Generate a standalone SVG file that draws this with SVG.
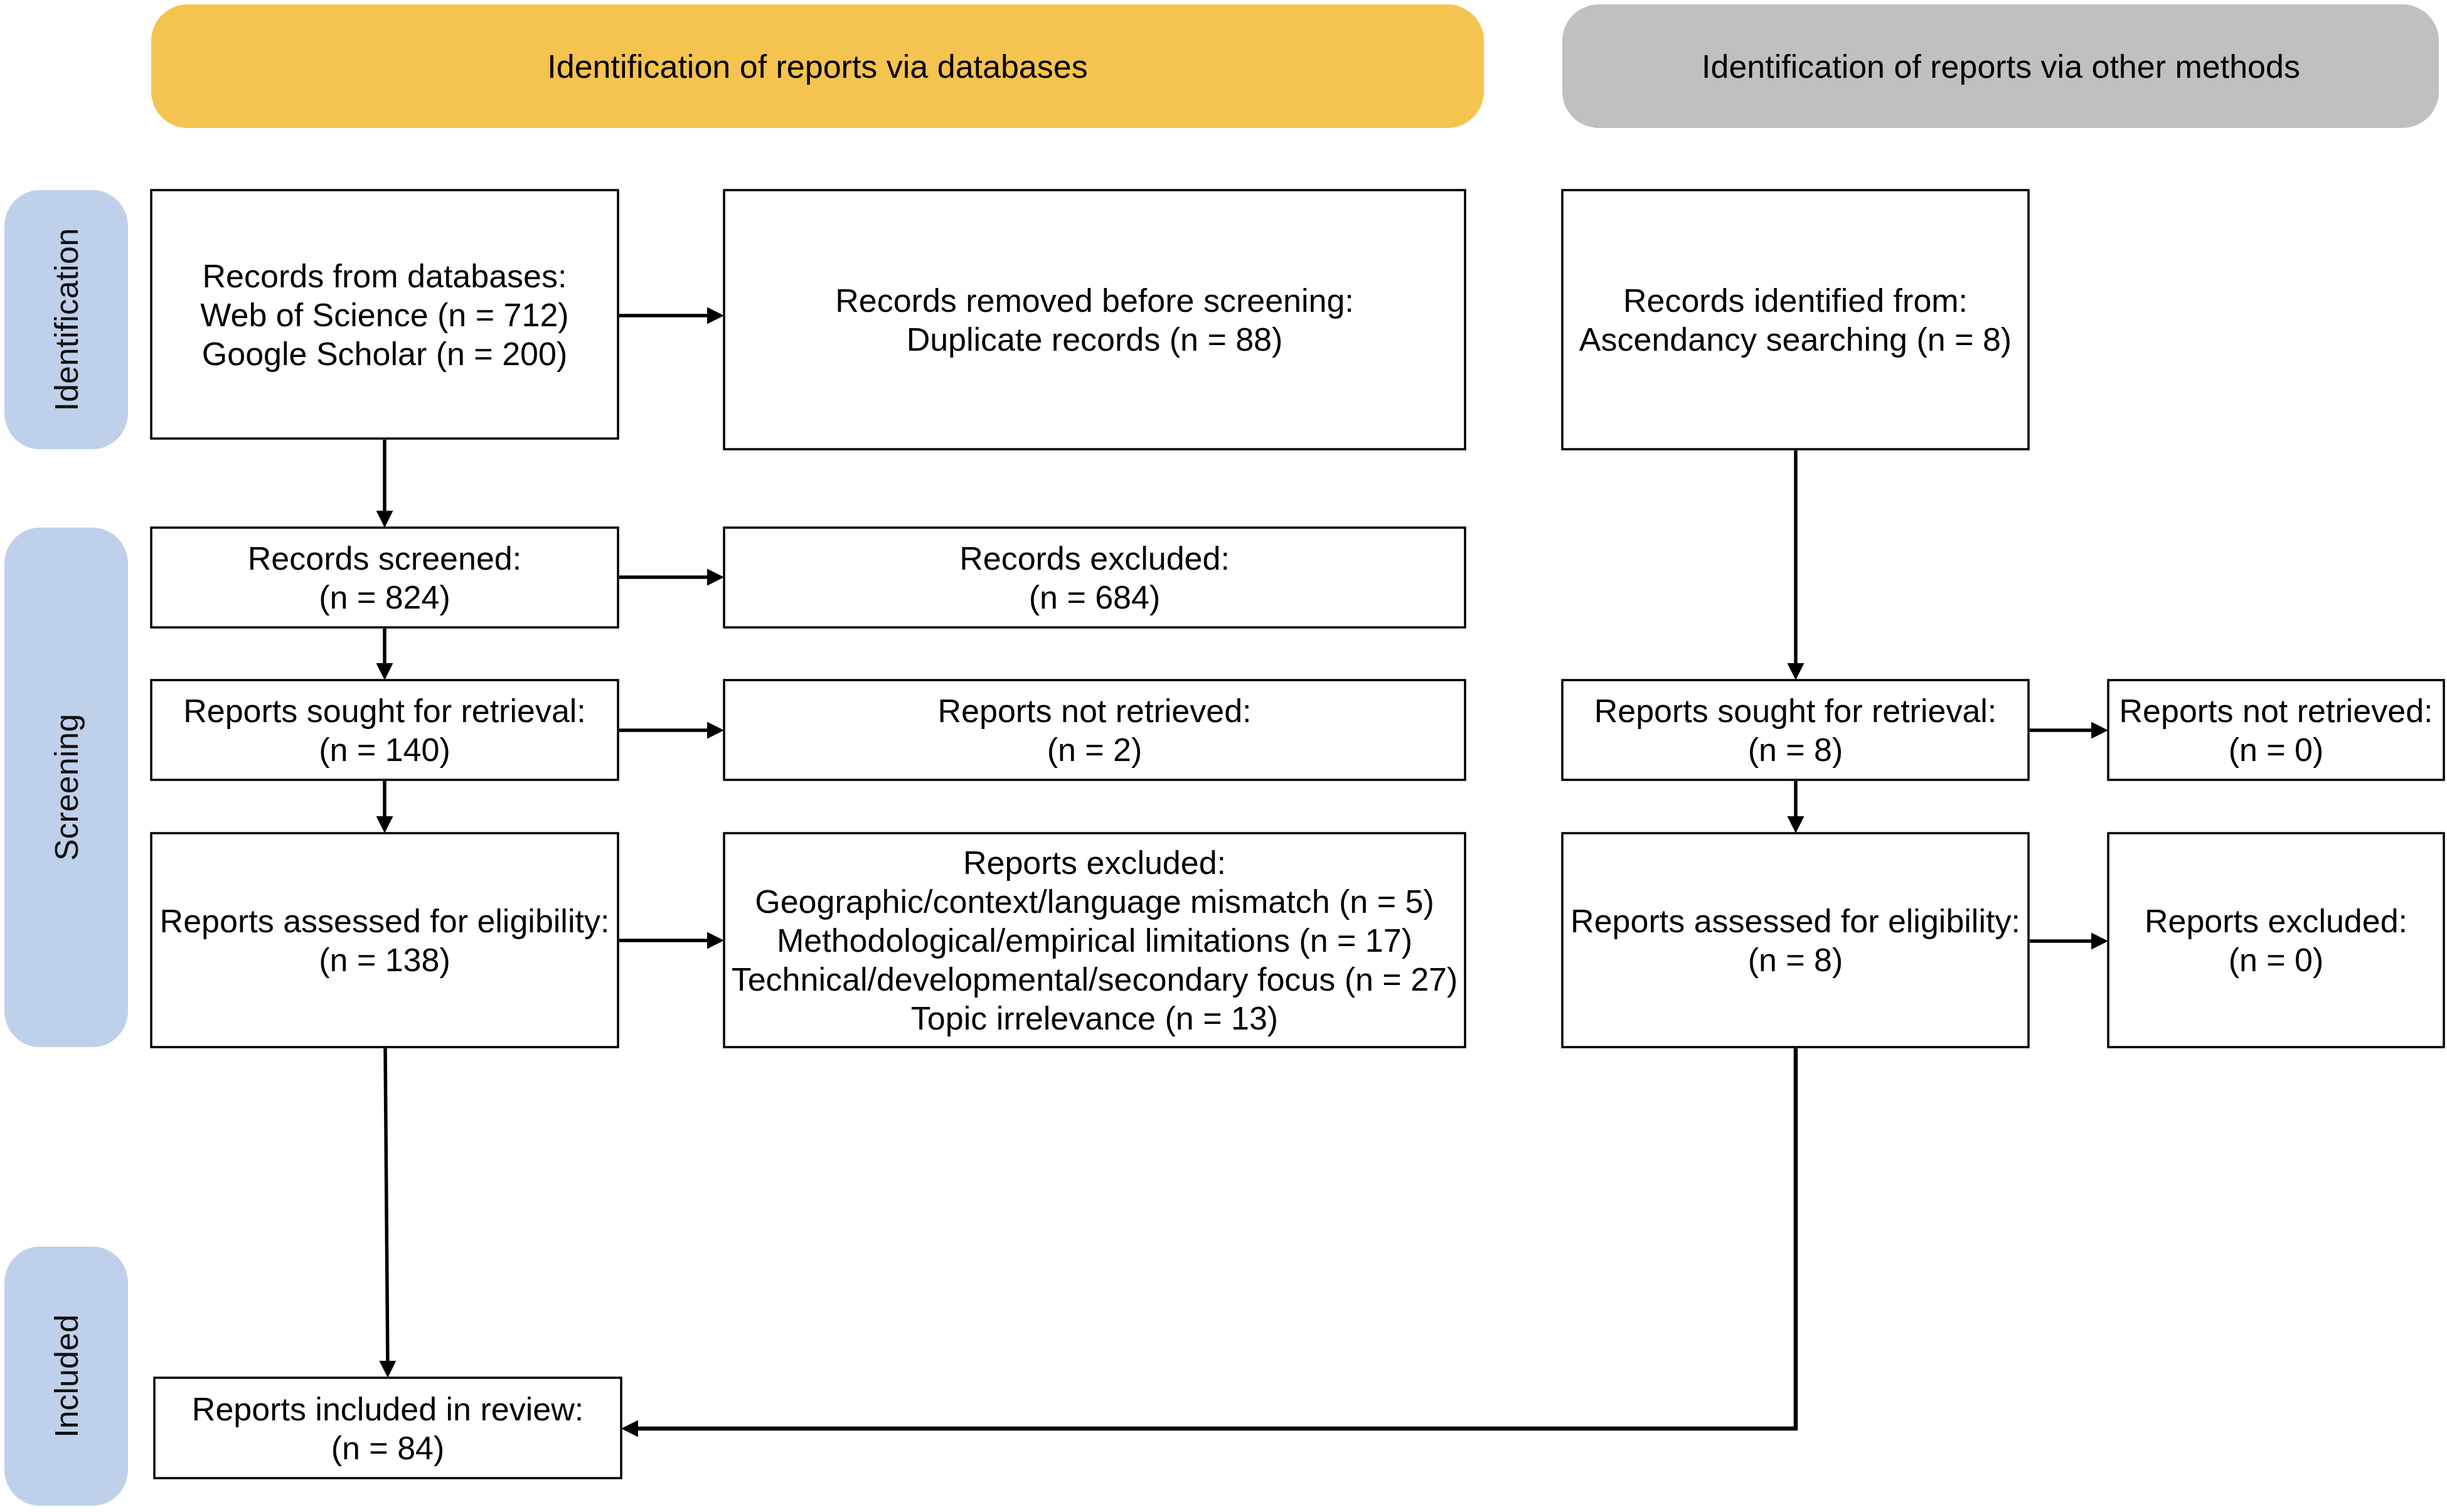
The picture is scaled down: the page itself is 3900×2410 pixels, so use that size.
<svg xmlns="http://www.w3.org/2000/svg" width="3900" height="2410" viewBox="0 0 3900 2410">
<defs>
<style>
.box{fill:#fff;stroke:#000;stroke-width:3.5}
.t{font-family:"Liberation Sans",Arial,Helvetica,sans-serif;font-size:52px;text-anchor:middle;fill:#000}
.pt{font-family:"Liberation Sans",Arial,Helvetica,sans-serif;font-size:52px;text-anchor:middle;fill:#111}
.pill{fill:#BFD0EA}
.arr{fill:none;stroke:#000;stroke-width:5.5;marker-end:url(#ah)}
.arrb{fill:none;stroke:#000;stroke-width:6.5;marker-end:url(#ah)}
</style>
<marker id="ah" markerUnits="userSpaceOnUse" markerWidth="27" markerHeight="27" viewBox="0 0 27 27" refX="16" refY="13.5" orient="auto">
<path d="M0,0 L27,13.5 L0,27 Z" fill="#000"/>
</marker>
</defs>
<rect width="3900" height="2410" fill="#fff"/>

<g id="header-databases">
<rect x="241" y="7" width="2124" height="197" rx="58" ry="58" fill="#F5C34F"/>
<text class="t" x="1303" y="124">Identification of reports via databases</text>
</g>
<g id="header-other">
<rect x="2490" y="7" width="1397" height="197" rx="58" ry="58" fill="#C0C0C0"/>
<text class="t" x="3189" y="124">Identification of reports via other methods</text>
</g>

<g id="phase-identification">
<rect class="pill" x="7" y="303" width="197" height="413" rx="56" ry="58"/>
<text class="pt" transform="translate(124,509.5) rotate(-90)">Identification</text>
</g>
<g id="phase-screening">
<rect class="pill" x="7" y="841" width="197" height="828" rx="56" ry="58"/>
<text class="pt" transform="translate(124,1255) rotate(-90)">Screening</text>
</g>
<g id="phase-included">
<rect class="pill" x="7" y="1987" width="197" height="413" rx="56" ry="58"/>
<text class="pt" transform="translate(124,2193.5) rotate(-90)">Included</text>
</g>

<g id="records-databases">
<rect class="box" x="241" y="303" width="744" height="396"/>
<text class="t" x="613" y="458">Records from databases:</text>
<text class="t" x="613" y="520">Web of Science (n = 712)</text>
<text class="t" x="613" y="582">Google Scholar (n = 200)</text>
</g>
<g id="records-removed">
<rect class="box" x="1154" y="303" width="1181" height="413"/>
<text class="t" x="1744.5" y="497">Records removed before screening:</text>
<text class="t" x="1744.5" y="559">Duplicate records (n = 88)</text>
</g>
<g id="records-other">
<rect class="box" x="2490" y="303" width="743" height="413"/>
<text class="t" x="2861.5" y="497">Records identified from:</text>
<text class="t" x="2861.5" y="559">Ascendancy searching (n = 8)</text>
</g>

<g id="records-screened">
<rect class="box" x="241" y="841" width="744" height="159"/>
<text class="t" x="613" y="908">Records screened:</text>
<text class="t" x="613" y="970">(n = 824)</text>
</g>
<g id="records-excluded">
<rect class="box" x="1154" y="841" width="1181" height="159"/>
<text class="t" x="1744.5" y="908">Records excluded:</text>
<text class="t" x="1744.5" y="970">(n = 684)</text>
</g>

<g id="sought-db">
<rect class="box" x="241" y="1084" width="744" height="159"/>
<text class="t" x="613" y="1151">Reports sought for retrieval:</text>
<text class="t" x="613" y="1213">(n = 140)</text>
</g>
<g id="not-retrieved-db">
<rect class="box" x="1154" y="1084" width="1181" height="159"/>
<text class="t" x="1744.5" y="1151">Reports not retrieved:</text>
<text class="t" x="1744.5" y="1213">(n = 2)</text>
</g>
<g id="sought-other">
<rect class="box" x="2490" y="1084" width="743" height="159"/>
<text class="t" x="2861.5" y="1151">Reports sought for retrieval:</text>
<text class="t" x="2861.5" y="1213">(n = 8)</text>
</g>
<g id="not-retrieved-other">
<rect class="box" x="3360" y="1084" width="535" height="159"/>
<text class="t" x="3627.5" y="1151">Reports not retrieved:</text>
<text class="t" x="3627.5" y="1213">(n = 0)</text>
</g>

<g id="assessed-db">
<rect class="box" x="241" y="1328" width="744" height="341"/>
<text class="t" x="613" y="1486">Reports assessed for eligibility:</text>
<text class="t" x="613" y="1548">(n = 138)</text>
</g>
<g id="excluded-db">
<rect class="box" x="1154" y="1328" width="1181" height="341"/>
<text class="t" x="1744.5" y="1393">Reports excluded:</text>
<text class="t" x="1744.5" y="1455">Geographic/context/language mismatch (n = 5)</text>
<text class="t" x="1744.5" y="1517">Methodological/empirical limitations (n = 17)</text>
<text class="t" x="1744.5" y="1579">Technical/developmental/secondary focus (n = 27)</text>
<text class="t" x="1744.5" y="1641">Topic irrelevance (n = 13)</text>
</g>
<g id="assessed-other">
<rect class="box" x="2490" y="1328" width="743" height="341"/>
<text class="t" x="2861.5" y="1486">Reports assessed for eligibility:</text>
<text class="t" x="2861.5" y="1548">(n = 8)</text>
</g>
<g id="excluded-other">
<rect class="box" x="3360" y="1328" width="535" height="341"/>
<text class="t" x="3627.5" y="1486">Reports excluded:</text>
<text class="t" x="3627.5" y="1548">(n = 0)</text>
</g>

<g id="included">
<rect class="box" x="246" y="2196" width="744" height="160"/>
<text class="t" x="618" y="2264">Reports included in review:</text>
<text class="t" x="618" y="2326">(n = 84)</text>
</g>

<g id="connectors">
<path class="arr" d="M987,503 H1143"/>
<path class="arr" d="M613,701 V830"/>
<path class="arr" d="M987,920 H1143"/>
<path class="arr" d="M613,1002 V1073"/>
<path class="arr" d="M987,1164 H1143"/>
<path class="arr" d="M613,1245 V1317"/>
<path class="arr" d="M987,1499 H1143"/>
<path class="arr" d="M614,1671 L618,2185"/>
<path class="arr" d="M2862,718 V1073"/>
<path class="arr" d="M3235,1164 H3349"/>
<path class="arr" d="M2862,1245 V1317"/>
<path class="arr" d="M3235,1500 H3349"/>
<path class="arrb" d="M2862,1671 V2277 H1001"/>
</g>
</svg>
